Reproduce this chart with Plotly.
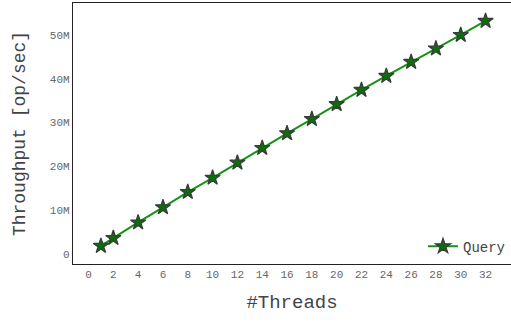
import plotly.graph_objects as go

threads = [1, 2, 4, 6, 8, 10, 12, 14, 16, 18, 20, 22, 24, 26, 28, 30, 32]
throughput_m = [1.85, 3.65, 7.2, 10.65, 14.15, 17.4, 20.85, 24.2, 27.55, 30.8, 34.2,
                37.45, 40.65, 43.85, 46.9, 50.0, 53.2]
series_name = "Query"
x_ticks = list(range(0, 33, 2))
y_tick_vals_m = [0, 10, 20, 30, 40, 50]
y_tick_text = ["0", "10M", "20M", "30M", "40M", "50M"]

font_family = "Liberation Mono"

fig = go.Figure()
fig.add_trace(go.Scatter(
    x=threads,
    y=[v * 1e6 for v in throughput_m],
    mode="lines+markers",
    name=series_name,
    line=dict(color="#149414", width=2),
    marker=dict(symbol="star", size=11.5, color="#0b6e0b",
                line=dict(color="#3a3a3a", width=1.2)),
))

fig.update_layout(
    width=511, height=322,
    margin=dict(l=73, r=0, t=3, b=58, autoexpand=False),
    plot_bgcolor="white", paper_bgcolor="white",
    font=dict(family=font_family, color="#555555"),
    showlegend=True,
    legend=dict(x=1, y=0.005, xanchor="right", yanchor="bottom",
                bgcolor="rgba(0,0,0,0)", font=dict(size=14, color="#444444"),
                itemwidth=30, borderwidth=0),
)
fig.update_xaxes(
    range=[-1.25, 34.05],
    tickvals=x_ticks,
    ticktext=[str(t) for t in x_ticks],
    tickfont=dict(size=11, color="#666666"),
    showgrid=False, zeroline=False, automargin=False,
    showline=True, linecolor="#222222", linewidth=1.3, mirror=True,
    ticks="", ticklen=0,
    title=dict(text="#Threads", font=dict(size=19, color="#444444"), standoff=14),
)
fig.update_yaxes(
    range=[-2.28e6, 57.3e6],
    tickvals=[v * 1e6 for v in y_tick_vals_m],
    ticktext=y_tick_text,
    tickfont=dict(size=11, color="#666666"),
    showgrid=False, zeroline=False, automargin=False,
    showline=True, linecolor="#222222", linewidth=1.3, mirror=False,
    ticks="", ticklen=0,
    title=dict(text="Throughput [op/sec]", font=dict(size=18, color="#444444"), standoff=19),
)

fig.write_html("out.html", config={"displayModeBar": False},
               post_script="document.body.style.margin='0';document.body.style.overflow='hidden';")
